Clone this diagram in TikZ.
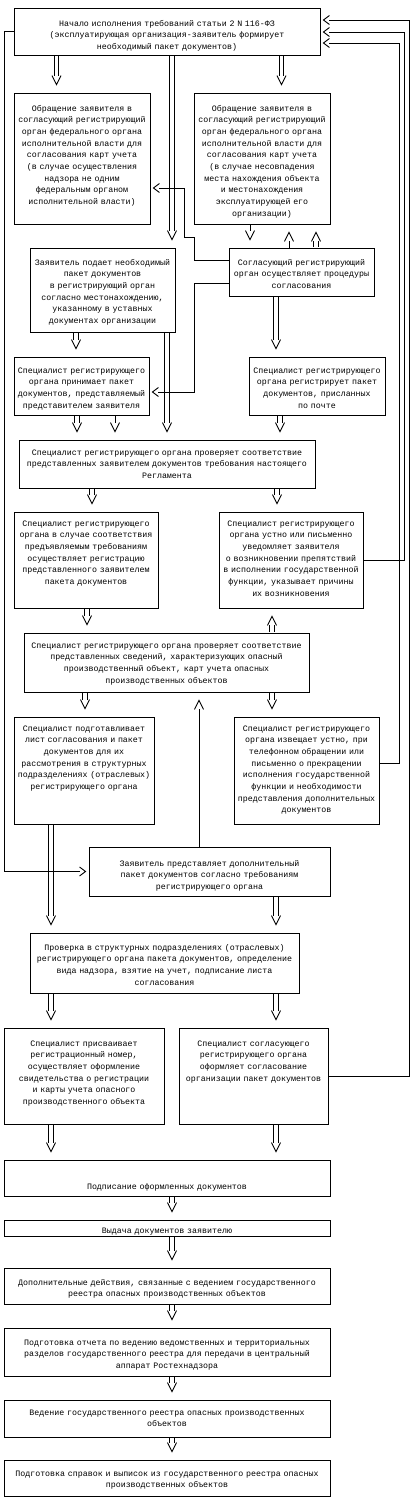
\documentclass[tikz,border=0pt]{standalone}
\usepackage{fontspec}
\newfontfamily\flowfont{Liberation Mono}
\usetikzlibrary{calc}
\tikzset{
    box/.style={draw, line width=.9pt, inner xsep=0pt, inner ysep=0pt, align=center,
        text height=6pt, font=\flowfont\fontsize{8.3}{11.7}\selectfont},
    boxsize/.style n args={2}{text width=#1, minimum width=#1, minimum height=#2},
    dbl/.style={double, double distance=3.4pt, shorten <=.5pt},
    vdown/.pic={\draw (-4.5,-9) -- (0,0) -- (4.5,-9);},
    vup/.pic={\draw (-4.5,9) -- (0,0) -- (4.5,9);},
    vleft/.pic={\draw (6,-4.5) -- (0,0) -- (6,4.5);},
    vright/.pic={\draw (-6,-4.5) -- (0,0) -- (-6,4.5);},
}

\begin{document}
\begin{tikzpicture}[x=1pt, y=-1pt, line width=.9pt]
    \useasboundingbox (0,0) rectangle (414,1502);
    \node[box, boxsize={306pt}{47pt}, text depth=17pt] (start) at (167,31.5)
        {Начало исполнения требований статьи 2 N 116-ФЗ\\(эксплуатирующая организация-заявитель формирует\\необходимый пакет документов)};
    \node[box, boxsize={136pt}{131pt}, text depth=101pt] (askL) at (82,158.5)
        {Обращение заявителя в\\согласующий регистрирующий\\орган федерального органа\\исполнительной власти для\\согласования карт учета\\(в случае осуществления\\надзора не одним\\федеральным органом\\исполнительной власти)};
    \node[box, boxsize={136pt}{131pt}, text depth=101pt] (askR) at (262,158.5)
        {Обращение заявителя в\\согласующий регистрирующий\\орган федерального органа\\исполнительной власти для\\согласования карт учета\\(в случае несовпадения\\места нахождения объекта\\и местонахождения\\эксплуатирующей его\\организации)};
    \node[box, boxsize={145pt}{84pt}, text depth=56pt] (submit) at (102.5,290)
        {Заявитель подает необходимый\\пакет документов\\в регистрирующий орган\\согласно местонахождению,\\указанному в уставных\\документах организации};
    \node[box, boxsize={145pt}{48pt}, text depth=20pt] (agree) at (301.5,272)
        {Согласующий регистрирующий\\орган осуществляет процедуры\\согласования};
    \node[box, boxsize={135pt}{58pt}, text depth=32pt] (accept) at (81.5,386)
        {Специалист регистрирующего\\органа принимает пакет\\документов, представляемый\\представителем заявителя};
    \node[box, boxsize={136pt}{58pt}, text depth=32pt] (post) at (317,386)
        {Специалист регистрирующего\\органа регистрирует пакет\\документов, присланных\\по почте};
    \node[box, boxsize={296pt}{48pt}, text depth=24pt] (check1) at (167,464)
        {Специалист регистрирующего органа проверяет соответствие\\представленных заявителем документов требования настоящего\\Регламента};
    \node[box, boxsize={144pt}{96pt}, text depth=74pt] (register) at (86,560)
        {Специалист регистрирующего\\органа в случае соответствия\\предъявляемым требованиям\\осуществляет регистрацию\\представленного заявителем\\пакета документов};
    \node[box, boxsize={144pt}{96pt}, text depth=74pt] (notify) at (291,560)
        {Специалист регистрирующего\\органа устно или письменно\\уведомляет заявителя\\о возникновении препятствий\\в исполнении государственной\\функции, указывает причины\\их возникновения};
    \node[box, boxsize={285pt}{59pt}, text depth=35pt] (check2) at (166.5,662.5)
        {Специалист регистрирующего органа проверяет соответствие\\представленных сведений, характеризующих опасный\\производственный объект, карт учета опасных\\производственных объектов};
    \node[box, boxsize={140pt}{107pt}, text depth=85pt] (prepare) at (84,770.5)
        {Специалист подготавливает\\лист согласования и пакет\\документов для их\\рассмотрения в структурных\\подразделениях (отраслевых)\\регистрирующего органа};
    \node[box, boxsize={145pt}{107pt}, text depth=85pt] (inform) at (306.5,770.5)
        {Специалист регистрирующего\\органа извещает устно, при\\телефонном обращении или\\письменно о прекращении\\исполнения государственной\\функции и необходимости\\представления дополнительных\\документов};
    \node[box, boxsize={241pt}{49pt}, text depth=17pt] (additional) at (209.5,871.5)
        {Заявитель представляет дополнительный\\пакет документов согласно требованиям\\регистрирующего органа};
    \node[box, boxsize={269pt}{60pt}, text depth=32pt] (review) at (164.5,963)
        {Проверка в структурных подразделениях (отраслевых)\\регистрирующего органа пакета документов, определение\\вида надзора, взятие на учет, подписание листа\\согласования};
    \node[box, boxsize={160pt}{96pt}, text depth=66pt] (assign) at (84,1076)
        {Специалист присваивает\\регистрационный номер,\\осуществляет оформление\\свидетельства о регистрации\\и карты учета опасного\\производственного объекта};
    \node[box, boxsize={149pt}{96pt}, text depth=66pt] (agreespec) at (253.5,1076)
        {Специалист согласующего\\регистрирующего органа\\оформляет согласование\\организации пакет документов};
    \node[box, boxsize={326pt}{36pt}, text height=22pt, text depth=0pt] (sign) at (167,1178)
        {Подписание оформленных документов};
    \node[box, boxsize={326pt}{16pt}, text height=10pt, text depth=0pt] (issue) at (167,1228)
        {Выдача документов заявителю};
    \node[box, boxsize={326pt}{36pt}, text depth=8pt] (extra) at (167,1286)
        {Дополнительные действия, связанные с ведением государственного\\реестра опасных производственных объектов};
    \node[box, boxsize={326pt}{48pt}, text depth=20pt] (report) at (167,1352)
        {Подготовка отчета по ведению ведомственных и территориальных\\разделов государственного реестра для передачи в центральный\\аппарат Ростехнадзора};
    \node[box, boxsize={326pt}{37pt}, text depth=13pt] (keep) at (167,1418.5)
        {Ведение государственного реестра опасных производственных\\объектов};
    \node[box, boxsize={326pt}{36pt}, text depth=10pt] (final) at (167,1478)
        {Подготовка справок и выписок из государственного реестра опасных\\производственных объектов};
    \foreach \a/\b/\x in {start/askL/56.5, start/submit/172, start/askR/281.5, submit/accept/76,
        submit/check1/167, accept/check1/77, agree/post/276, post/check1/280, check1/register/92,
        check1/notify/277, register/check2/87, check2/prepare/85, check2/inform/272,
        prepare/review/51, additional/review/276, review/assign/51, review/agreespec/276,
        assign/sign/51, agreespec/sign/276, sign/issue/172, issue/extra/172, extra/report/172,
        report/keep/172, keep/final/172} {
        \coordinate (col) at (\x,0);
        \draw[dbl] (\a.south -| col) -- ($(\b.north -| col)+(0,-17)$);
        \pic at ($(\b.north -| col)+(0,-8)$) {vdown};
    }
    \foreach \a/\b/\x in {askR/agree/250, accept/check1/115} {
        \coordinate (col) at (\x,0);
        \draw (\a.south -| col) -- ($(\b.north -| col)+(0,-17)$);
        \pic at ($(\b.north -| col)+(0,-8)$) {vdown};
    }
    \foreach \a/\b/\x in {agree/askR/289, additional/check2/199} {
        \coordinate (col) at (\x,0);
        \draw (\a.north -| col) -- ($(\b.south -| col)+(0,17)$);
        \pic at ($(\b.south -| col)+(0,8)$) {vup};
    }
    \foreach \a/\b/\x in {agree/askR/316, check2/notify/272} {
        \coordinate (col) at (\x,0);
        \draw[dbl] (\a.north -| col) -- ($(\b.south -| col)+(0,17)$);
        \pic at ($(\b.south -| col)+(0,8)$) {vup};
    }
    \foreach \a/\y/\x/\ty in {agreespec/0/409/20, notify/0/404/32, inform/7.5/399/43} {
        \coordinate (bend) at (\x,\ty);
        \draw ([yshift=\y pt]\a.east) -| (bend) -- ($(start.east |- bend)+(9,0)$);
        \pic at ($(start.east |- bend)+(3,0)$) {vleft};
    }
    \coordinate (lft) at (4,0);
    \draw (start.west) -- (start.west -| lft) |- ($(additional.west)+(-9,0)$);
    \pic at ($(additional.west)+(-3,0)$) {vright};
    \coordinate (b1) at (194,237);
    \coordinate (b2) at (184,188);
    \coordinate (b3) at (194,392);
    \draw ([yshift=12pt]agree.west) -| (b1) -| (b2) -- ($(askL.east |- b2)+(9,0)$);
    \pic at ($(askL.east |- b2)+(3,0)$) {vleft};
    \draw ([yshift=-11pt]agree.west) -| (b3) -- ($(accept.east |- b3)+(9,0)$);
    \pic at ($(accept.east |- b3)+(3,0)$) {vleft};
\end{tikzpicture}
\end{document}
